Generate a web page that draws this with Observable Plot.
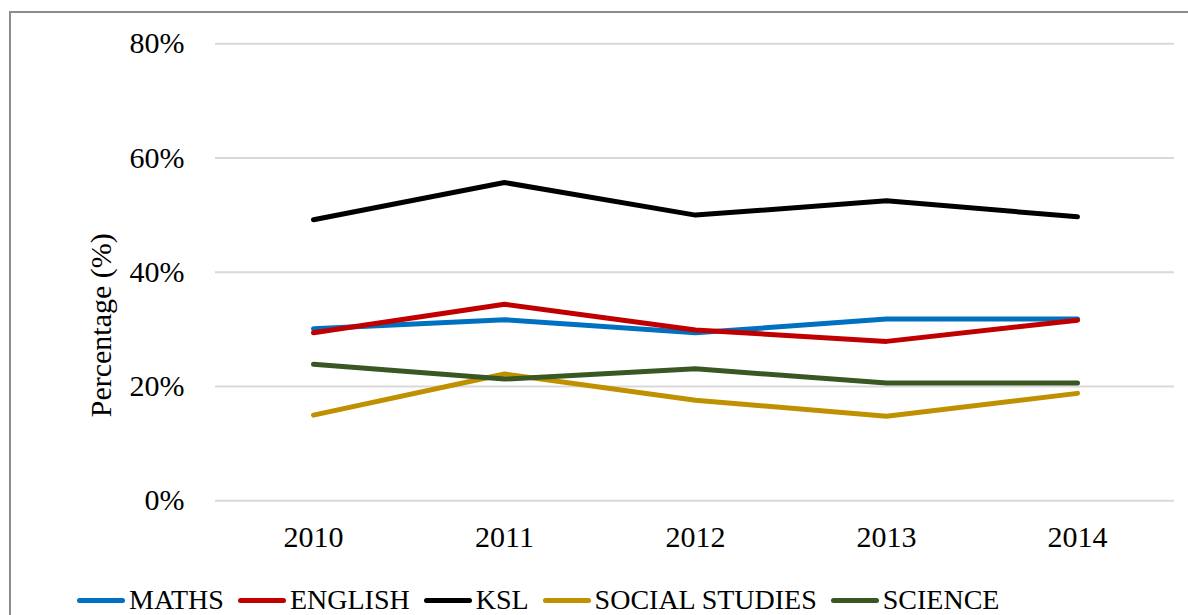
<!DOCTYPE html>
<html>
<head>
<meta charset="utf-8">
<script src="https://cdn.jsdelivr.net/npm/d3@7"></script>
<script src="https://cdn.jsdelivr.net/npm/@observablehq/plot@0.6"></script>
<style>
  html, body { margin: 0; padding: 0; background: #fff; }
  #wrap { position: relative; width: 1188px; height: 615px; overflow: hidden; background: #fff; font-family: 'Liberation Serif', serif; }
  #frame { position: absolute; left: 9px; top: 11px; width: 1300px; height: 700px; border: 2px solid #8c8c8c; box-sizing: border-box; }
  #chart { position: absolute; left: 0; top: 0; }
  #legend { position: absolute; left: 77px; top: 584px; display: flex; align-items: center; font-size: 28px; color: #000; white-space: nowrap; }
  .item { display: flex; align-items: center; margin-right: 14px; }
  .sw { width: 48px; height: 5px; border-radius: 3px; margin-right: 4px; }
</style>
</head>
<body>
<div id="wrap">
  <div id="frame"></div>
  <div id="chart"></div>
  <div id="legend"></div>
</div>
<script>
const years = ["2010", "2011", "2012", "2013", "2014"];
const subjects = ["MATHS", "ENGLISH", "KSL", "SOCIAL STUDIES", "SCIENCE"];
const colors = ["#0070C0", "#C00000", "#000000", "#BF9000", "#385723"];
const maths = [0.301, 0.317, 0.294, 0.318, 0.318];
const english = [0.294, 0.344, 0.299, 0.279, 0.316];
const ksl = [0.492, 0.557, 0.500, 0.525, 0.497];
const social = [0.150, 0.222, 0.176, 0.148, 0.188];
const science = [0.239, 0.213, 0.231, 0.206, 0.206];
const yTicks = [0, 0.2, 0.4, 0.6, 0.8];

const seriesValues = [maths, english, ksl, social, science];
const rows = [];
subjects.forEach((s, i) => years.forEach((y, j) => rows.push({subject: s, year: y, value: seriesValues[i][j]})));

const serif = "'Liberation Serif', serif";

const chart = Plot.plot({
  width: 1188,
  height: 570,
  marginLeft: 215,
  marginRight: 14,
  marginTop: 43.2,
  marginBottom: 69.7,
  style: {fontFamily: serif, fontSize: "30px", color: "#000", background: "transparent"},
  x: {type: "point", domain: years, padding: 0.5, label: null},
  y: {domain: [0, 0.8], label: null},
  color: {domain: subjects, range: colors},
  marks: [
    Plot.gridY(yTicks, {stroke: "#d9d9d9", strokeOpacity: 1, strokeWidth: 2}),
    Plot.axisY(yTicks, {tickFormat: d => Math.round(d * 100) + "%", tickSize: 0, tickPadding: 31, fontSize: 30, fontFamily: serif, label: null}),
    Plot.axisX(years, {tickSize: 0, tickPadding: 25, fontSize: 30, fontFamily: serif, label: null}),
    Plot.text(["Percentage (%)"], {frameAnchor: "left", dx: -114, dy: 53, rotate: -90, textAnchor: "middle", fontSize: 30, fontFamily: serif, fill: "#000"}),
    Plot.line(rows, {x: "year", y: "value", z: "subject", stroke: "subject", strokeWidth: 5, strokeLinecap: "round", strokeLinejoin: "round"})
  ]
});
document.getElementById("chart").appendChild(chart);

const legend = document.getElementById("legend");
subjects.forEach((s, i) => {
  const item = document.createElement("div");
  item.className = "item";
  const sw = document.createElement("div");
  sw.className = "sw";
  sw.style.background = colors[i];
  const lab = document.createElement("span");
  lab.textContent = s;
  item.appendChild(sw);
  item.appendChild(lab);
  legend.appendChild(item);
});
</script>
</body>
</html>
